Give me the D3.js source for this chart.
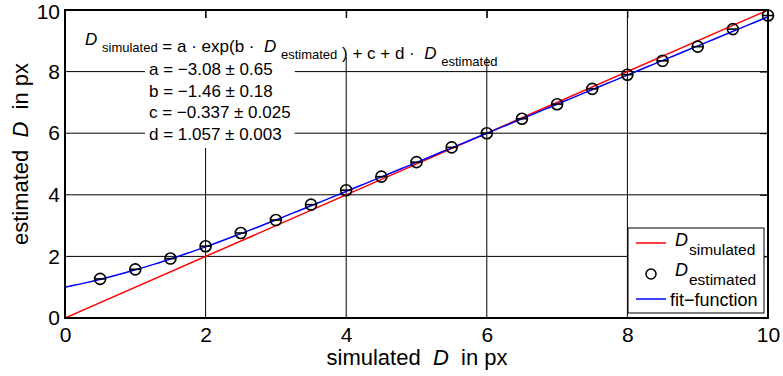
<!DOCTYPE html>
<html>
<head>
<meta charset="utf-8">
<script src="https://cdn.jsdelivr.net/npm/d3@7"></script>
<style>
  body { margin: 0; background: #fff; }
  svg { font-family: "Liberation Sans", Arial, Helvetica, sans-serif; }
</style>
</head>
<body>
<svg id="chart" width="783" height="376"></svg>
<script>
// -----------------------------
// Data
// -----------------------------
const simulated = [0.5, 1, 1.5, 2, 2.5, 3, 3.5, 4, 4.5, 5, 5.5, 6, 6.5, 7, 7.5, 8, 8.5, 9, 9.5, 10];
const estimated = [1.27, 1.58, 1.93, 2.33, 2.76, 3.18, 3.68, 4.15, 4.59, 5.06, 5.54, 6.0, 6.47, 6.94, 7.44, 7.9, 8.35, 8.81, 9.38, 9.82];
const xError = 0.08;

// fit parameters a, b, c, d  (D_sim = a*exp(b*D_est) + c + d*D_est)
const fitParams = [-3.08, -1.46, -0.337, 1.057];
const fitLabels = [
  "a = \u22123.08 \u00b1 0.65",
  "b = \u22121.46 \u00b1 0.18",
  "c = \u22120.337 \u00b1 0.025",
  "d = 1.057 \u00b1 0.003",
];

const xTicks = [0, 2, 4, 6, 8, 10];
const yTicks = [0, 2, 4, 6, 8, 10];

// -----------------------------
// Layout
// -----------------------------
const svg = d3.select("#chart");
const plotLeft = 65, plotRight = 768, plotTop = 10, plotBottom = 318;

const x = d3.scaleLinear().domain([0, 10]).range([plotLeft, plotRight]);
const y = d3.scaleLinear().domain([0, 10]).range([plotBottom, plotTop]);

svg.append("defs").append("clipPath").attr("id", "plotClip")
  .append("rect")
  .attr("x", plotLeft).attr("y", plotTop)
  .attr("width", plotRight - plotLeft).attr("height", plotBottom - plotTop);

// grid
const grid = svg.append("g").attr("stroke", "#000").attr("stroke-width", 1);
grid.selectAll(".gx")
  .data(xTicks.slice(1, -1))
  .join("line")
  .attr("class", "gx")
  .attr("x1", (d) => x(d)).attr("x2", (d) => x(d))
  .attr("y1", plotTop).attr("y2", plotBottom);
grid.selectAll(".gy")
  .data(yTicks.slice(1, -1))
  .join("line")
  .attr("class", "gy")
  .attr("x1", plotLeft).attr("x2", plotRight)
  .attr("y1", (d) => y(d)).attr("y2", (d) => y(d));

// -----------------------------
// Lines
// -----------------------------
const plot = svg.append("g").attr("clip-path", "url(#plotClip)");

const line = d3.line().x((d) => x(d[0])).y((d) => y(d[1]));

plot.append("path")
  .attr("d", line([[0, 0], [10, 10]]))
  .attr("fill", "none")
  .attr("stroke", "#ff0000")
  .attr("stroke-width", 1.5);

const [a, b, c, dd] = fitParams;
const fitPts = d3.range(0.98, 10.2, 0.04).map((e) => [a * Math.exp(b * e) + c + dd * e, e]);

plot.append("path")
  .attr("d", line(fitPts))
  .attr("fill", "none")
  .attr("stroke", "#0000ff")
  .attr("stroke-width", 1.5);

// points with horizontal error bars
const pts = svg.append("g").attr("stroke", "#000").attr("stroke-width", 1.6).attr("fill", "none");
simulated.forEach((s, i) => {
  pts.append("line")
    .attr("x1", x(s - xError)).attr("x2", x(s + xError))
    .attr("y1", y(estimated[i])).attr("y2", y(estimated[i]));
  pts.append("circle")
    .attr("cx", x(s)).attr("cy", y(estimated[i]))
    .attr("r", 5.5);
});

// -----------------------------
// Fit annotation (white boxes over grid)
// -----------------------------
const annBg = svg.append("g");
const ann = svg.append("g");

const eq = ann.append("text")
  .attr("x", 85).attr("y", 45)
  .style("font-size", "17px")
  .attr("xml:space", "preserve");
function sub(t) {
  eq.append("tspan").attr("dy", 7).style("font-size", "13px").text(t);
  eq.append("tspan").attr("dy", -7).text("");
}
eq.append("tspan").attr("font-style", "italic").text("D ");
sub("simulated");
eq.append("tspan").text(" = a \u00b7 exp(b \u00b7  ");
eq.append("tspan").attr("font-style", "italic").text("D ");
sub("estimated");
eq.append("tspan").text(" ) + c + d \u00b7  ");
eq.append("tspan").attr("font-style", "italic").text("D ");
sub("estimated");

const eqBox = eq.node().getBBox();
annBg.append("rect")
  .attr("x", eqBox.x - 3).attr("y", 18)
  .attr("width", eqBox.width + 6).attr("height", 39)
  .attr("fill", "#fff");

const params = ann.append("text").style("font-size", "17px");
params.selectAll("tspan")
  .data(fitLabels)
  .join("tspan")
  .attr("x", 149)
  .attr("y", (d, i) => 75 + i * 21.7)
  .text((d) => d);

const pBox = params.node().getBBox();
annBg.append("rect")
  .attr("x", pBox.x - 4).attr("y", 57)
  .attr("width", pBox.width + 8).attr("height", 91)
  .attr("fill", "#fff");

// -----------------------------
// Axes box + ticks
// -----------------------------
svg.append("rect")
  .attr("x", plotLeft).attr("y", plotTop)
  .attr("width", plotRight - plotLeft).attr("height", plotBottom - plotTop)
  .attr("fill", "none").attr("stroke", "#000").attr("stroke-width", 2);

// inward tick marks on top / right
svg.append("g")
  .attr("transform", `translate(0,${plotTop})`)
  .call(d3.axisBottom(x).tickValues(xTicks).tickSize(8).tickFormat(""))
  .call((g) => g.select(".domain").remove());
svg.append("g")
  .attr("transform", `translate(${plotRight},0)`)
  .call(d3.axisLeft(y).tickValues(yTicks).tickSize(8).tickFormat(""))
  .call((g) => g.select(".domain").remove());

svg.append("g")
  .attr("transform", `translate(0,${plotBottom})`)
  .call(d3.axisBottom(x).tickValues(xTicks).tickSize(0).tickPadding(9))
  .call((g) => g.select(".domain").remove())
  .call((g) => g.selectAll("text").style("font-size", "21px").attr("font-family", null).attr("fill", "#000"));

svg.append("g")
  .attr("transform", `translate(${plotLeft},0)`)
  .call(d3.axisLeft(y).tickValues(yTicks).tickSize(0).tickPadding(5))
  .call((g) => g.select(".domain").remove())
  .call((g) => g.selectAll("text").style("font-size", "21px").attr("font-family", null).attr("fill", "#000"))
  .call((g) => g.selectAll("text").filter((d) => d === 10).attr("dy", "0.4em"));

// axis labels
function labelText(sel, before, after) {
  sel.append("tspan").text(before);
  sel.append("tspan").attr("font-style", "italic").text("D");
  sel.append("tspan").text(after);
}

svg.append("text")
  .attr("x", 417).attr("y", 365)
  .attr("text-anchor", "middle")
  .attr("xml:space", "preserve")
  .style("font-size", "22px")
  .call(labelText, "simulated  ", "  in px");

svg.append("text")
  .attr("transform", "translate(28,154) rotate(-90)")
  .attr("text-anchor", "middle")
  .attr("xml:space", "preserve")
  .style("font-size", "22px")
  .call(labelText, "estimated  ", "  in px");

// -----------------------------
// Legend
// -----------------------------
const legend = svg.append("g");
legend.append("rect")
  .attr("x", 628).attr("y", 228)
  .attr("width", 136).attr("height", 85)
  .attr("fill", "#fff").attr("stroke", "#000").attr("stroke-width", 1);

legend.append("line")
  .attr("x1", 636).attr("x2", 666).attr("y1", 243).attr("y2", 243)
  .attr("stroke", "#ff0000").attr("stroke-width", 1.5);
legend.append("circle")
  .attr("cx", 651).attr("cy", 274).attr("r", 5)
  .attr("fill", "none").attr("stroke", "#000").attr("stroke-width", 1.5);
legend.append("line")
  .attr("x1", 636).attr("x2", 666).attr("y1", 299).attr("y2", 299)
  .attr("stroke", "#0000ff").attr("stroke-width", 1.5);

function legendD(yy, subText) {
  legend.append("text")
    .attr("x", 675).attr("y", yy)
    .style("font-size", "18px").attr("font-style", "italic")
    .text("D");
  legend.append("text")
    .attr("x", 689).attr("y", yy + 9)
    .style("font-size", "15.5px")
    .text(subText);
}
legendD(246, "simulated");
legendD(276, "estimated");
legend.append("text")
  .attr("x", 670).attr("y", 306)
  .style("font-size", "18px")
  .text("fit\u2212function");
</script>
</body>
</html>
